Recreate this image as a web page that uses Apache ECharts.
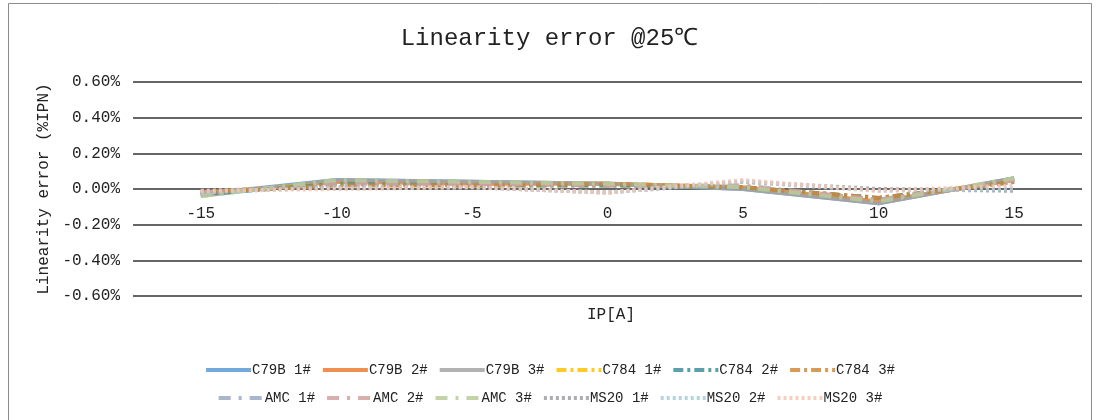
<!DOCTYPE html>
<html>
<head>
<meta charset="utf-8">
<style>
  html, body { margin: 0; padding: 0; background: #fff; }
  #chart { width: 1099px; height: 420px; }
</style>
<script src="https://cdn.jsdelivr.net/npm/echarts@6/dist/echarts.min.js"></script>
</head>
<body>
<div id="chart"></div>
<script>
  // IP[A]
  var categories = ['-15', '-10', '-5', '0', '5', '10', '15'];
  var yTicks = [-0.6, -0.4, -0.2, 0, 0.2, 0.4, 0.6];

  // linearity error in %IPN
  var c79b1 = [-0.03, 0.05, 0.04, 0.03, 0.00, -0.08, 0.06];
  var c79b2 = [-0.03, 0.04, 0.03, 0.03, 0.01, -0.07, 0.05];
  var c79b3 = [-0.04, 0.05, 0.04, 0.03, 0.00, -0.08, 0.06];
  var c7841 = [-0.02, 0.03, 0.02, 0.02, 0.01, -0.05, 0.04];
  var c7842 = [-0.03, 0.03, 0.02, 0.02, 0.01, -0.05, 0.04];
  var c7843 = [-0.02, 0.02, 0.02, 0.03, 0.01, -0.05, 0.04];
  var amc1 = [-0.03, 0.04, 0.03, 0.02, 0.01, -0.06, 0.05];
  var amc2 = [-0.02, 0.03, 0.03, 0.02, 0.02, -0.06, 0.05];
  var amc3 = [-0.04, 0.05, 0.04, 0.03, 0.01, -0.07, 0.06];
  var ms201 = [-0.01, 0.01, 0.01, -0.02, 0.04, 0.00, -0.01];
  var ms202 = [-0.02, 0.01, 0.01, -0.02, 0.04, -0.01, 0.00];
  var ms203 = [-0.01, 0.00, 0.01, -0.02, 0.05, -0.01, 0.02];

  var names = ['C79B 1#', 'C79B 2#', 'C79B 3#', 'C784 1#', 'C784 2#', 'C784 3#',
               'AMC 1#', 'AMC 2#', 'AMC 3#', 'MS20 1#', 'MS20 2#', 'MS20 3#'];
  var values = [c79b1, c79b2, c79b3, c7841, c7842, c7843, amc1, amc2, amc3, ms201, ms202, ms203];
  var colors = ['#5B9BD5', '#ED7D31', '#A5A5A5', '#FFC000', '#3E8F9C', '#D0883A',
                '#9AA9C6', '#D4A09E', '#B9CB98', '#9E9EA6', '#A9CCD8', '#F2C6B4'];
  var dashes = ['solid', 'solid', 'solid',
                [10, 4, 3, 4], [10, 4, 3, 4], [10, 4, 3, 4],
                [12, 8, 3, 8], [12, 8, 3, 8], [12, 8, 3, 8],
                [3, 3], [3, 3], [3, 3]];

  var font = '"Liberation Mono", "DejaVu Sans Mono", monospace';

  var series = names.map(function (n, i) {
    return {
      name: n,
      type: 'line',
      data: values[i],
      symbol: 'none',
      color: colors[i],
      lineStyle: { width: 4, type: dashes[i], opacity: 0.85 }
    };
  });

  var legendStyle = {
    left: 'center',
    itemWidth: 45,
    itemHeight: 10,
    itemGap: 10,
    itemStyle: { opacity: 0 },
    lineStyle: { width: 4 },
    textStyle: { fontFamily: font, fontSize: 14, color: '#222', padding: [0, 0, 0, -4] }
  };

  var chart = echarts.init(document.getElementById('chart'));
  chart.setOption({
    animation: false,
    color: colors,
    title: [{
      text: 'Linearity error @25℃',
      left: 'center',
      top: 22,
      textStyle: { fontFamily: font, fontSize: 24, fontWeight: 'normal', color: '#222' }
    }, {
      text: 'IP[A]',
      left: 582,
      top: 302,
      textStyle: { fontFamily: font, fontSize: 16, fontWeight: 'normal', color: '#222' }
    }],
    legend: [
      Object.assign({ top: 358, data: names.slice(0, 6) }, legendStyle),
      Object.assign({ top: 386, data: names.slice(6) }, legendStyle)
    ],
    graphic: [{
      type: 'rect',
      shape: { x: 8.5, y: 3.5, width: 1083, height: 430 },
      style: { fill: 'none', stroke: '#8c8c8c', lineWidth: 1 },
      silent: true
    }],
    grid: { left: 133, right: 17, top: 82, bottom: 124 },
    xAxis: {
      type: 'category',
      data: categories,
      axisLine: { show: false },
      axisTick: { show: false },
      // labels sit just under the 0% line, as in the source
      axisLabel: { fontFamily: font, fontSize: 16, color: '#222', margin: -90 }
    },
    yAxis: {
      type: 'value',
      min: yTicks[0],
      max: yTicks[yTicks.length - 1],
      interval: 0.2,
      name: 'Linearity error (%IPN)',
      nameLocation: 'middle',
      nameGap: 77,
      nameTextStyle: { fontFamily: font, fontSize: 16, color: '#222' },
      axisLine: { show: false },
      axisTick: { show: false },
      axisLabel: {
        fontFamily: font, fontSize: 16, color: '#222', margin: 13,
        formatter: function (v) { return v.toFixed(2) + '%'; }
      },
      splitLine: { lineStyle: { color: '#333', width: 1.5 } }
    },
    series: series
  });
</script>
</body>
</html>
